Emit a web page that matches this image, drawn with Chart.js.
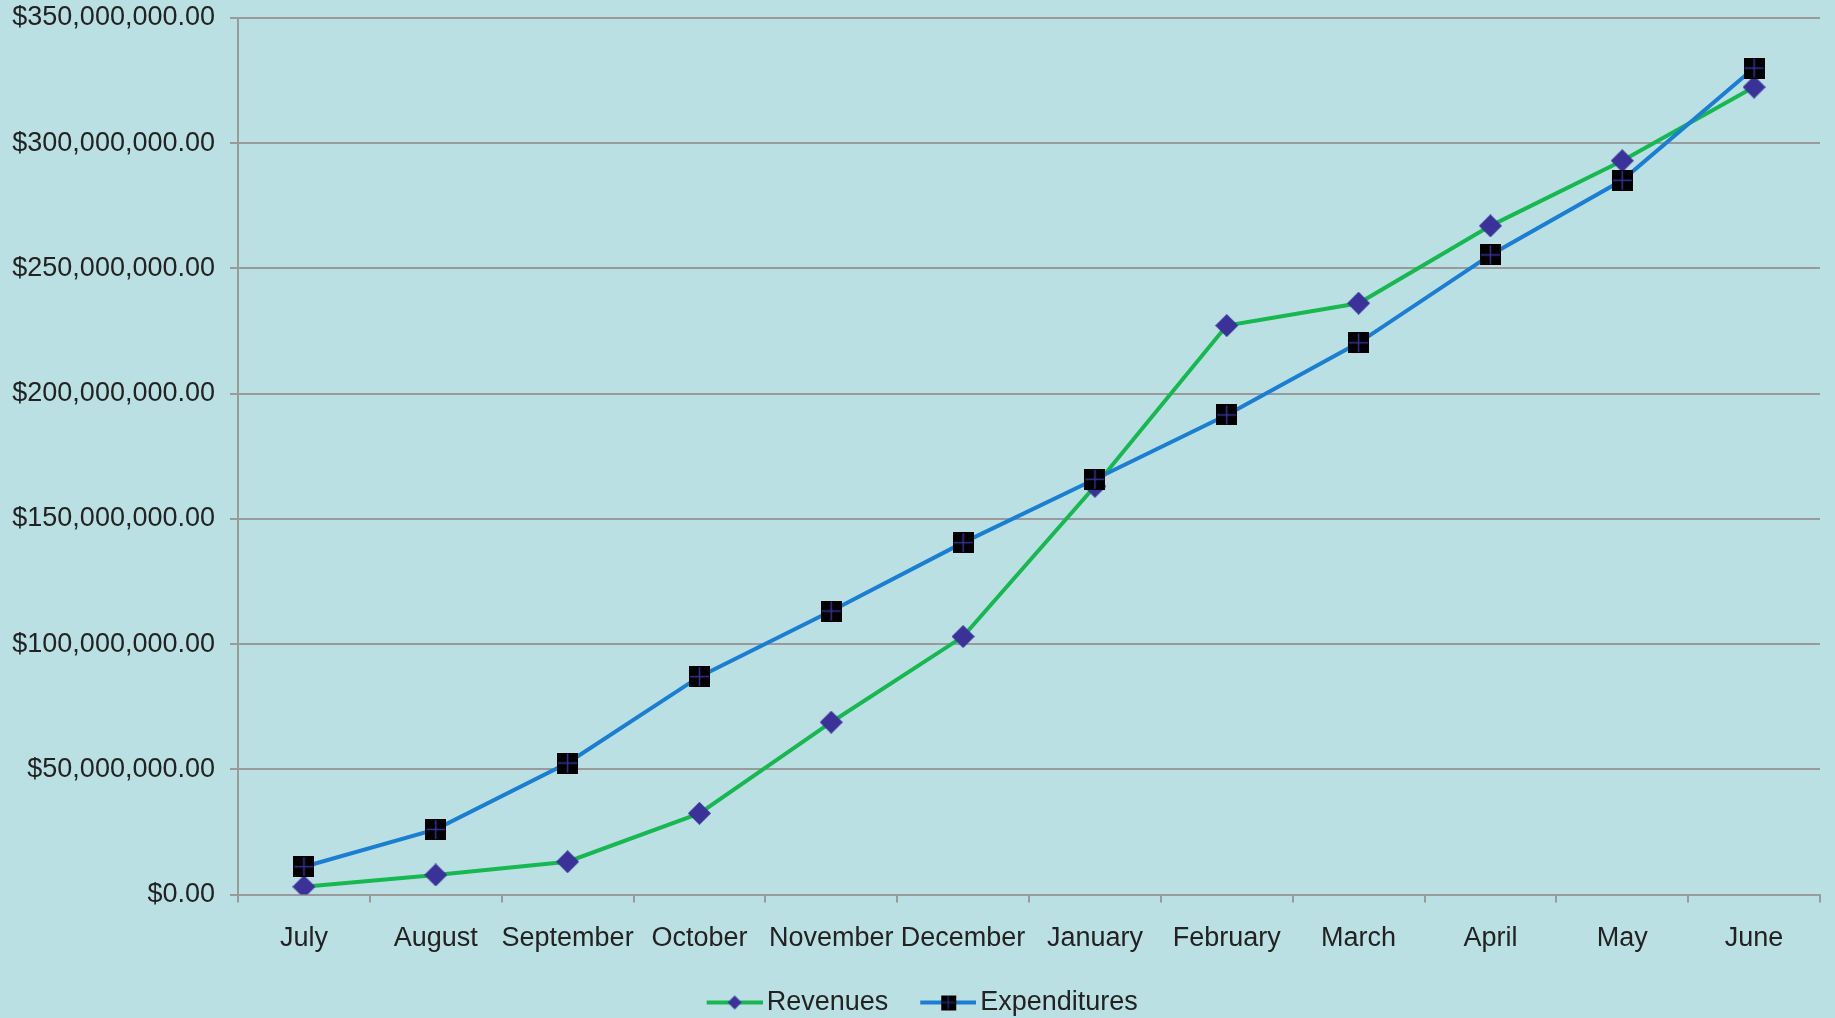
<!DOCTYPE html>
<html>
<head>
<meta charset="utf-8">
<script src="https://cdn.jsdelivr.net/npm/chart.js@4.4.1/dist/chart.umd.min.js"></script>
<style>
  html, body { margin: 0; padding: 0; background: #bbe0e3; overflow: hidden; }
  #wrap { position: relative; width: 1835px; height: 1018px; }
</style>
</head>
<body>
<div id="wrap"><canvas id="c" width="1835" height="1018"></canvas></div>
<script>
const categories = ['July', 'August', 'September', 'October', 'November', 'December',
                    'January', 'February', 'March', 'April', 'May', 'June'];
const revenues = [3100000, 7800000, 13100000, 32400000, 68800000, 103000000,
                  163000000, 227200000, 236100000, 267000000, 293000000, 322400000];
const expenditures = [11100000, 26000000, 52500000, 87000000, 113200000, 140500000,
                      165800000, 191500000, 220300000, 255400000, 285200000, 330000000];
const seriesNames = ['Revenues', 'Expenditures'];
const yMin = 0, yMax = 350000000, yStep = 50000000;

const GREEN = '#16b84f';
const BLUE = '#1a7fd2';
const MARK = '#3a3199';
const GRID = '#9a9a9a';
const TEXT = '#222222';
const FONT = 'Liberation Sans';

function diamondImg(s) {
  const c = document.createElement('canvas');
  c.width = s; c.height = s;
  const g = c.getContext('2d');
  const h = s / 2;
  g.fillStyle = MARK;
  g.beginPath();
  g.moveTo(h, 0); g.lineTo(s, h); g.lineTo(h, s); g.lineTo(0, h);
  g.closePath(); g.fill();
  return c;
}
function squareImg(s) {
  const c = document.createElement('canvas');
  c.width = s; c.height = s;
  const g = c.getContext('2d');
  g.fillStyle = '#000';
  g.fillRect(0, 0, s, s);
  g.strokeStyle = MARK;
  g.lineWidth = Math.max(1, s / 14);
  g.beginPath();
  g.moveTo(s / 2, 1); g.lineTo(s / 2, s - 1);
  g.moveTo(1, s / 2); g.lineTo(s - 1, s / 2);
  g.stroke();
  return c;
}
// legend symbol: transparent margin on the left, then line with centred marker
function legendImg(color, marker) {
  const w = 82, h = 20, x0 = 26;
  const c = document.createElement('canvas');
  c.width = w; c.height = h;
  const g = c.getContext('2d');
  g.strokeStyle = color; g.lineWidth = 4;
  g.beginPath(); g.moveTo(x0, h / 2); g.lineTo(w, h / 2); g.stroke();
  g.drawImage(marker, x0 + (w - x0 - marker.width) / 2, (h - marker.height) / 2);
  return c;
}

const revPoint = diamondImg(23);
const expPoint = squareImg(21);
const legendImgs = [legendImg(GREEN, diamondImg(14)), legendImg(BLUE, squareImg(15))];

new Chart(document.getElementById('c'), {
  type: 'line',
  data: {
    labels: categories,
    datasets: [
      {
        label: seriesNames[0], data: revenues, order: 1,
        borderColor: GREEN, backgroundColor: MARK, borderWidth: 4,
        pointStyle: revPoint, pointRadius: 11, pointHoverRadius: 11,
        tension: 0, fill: false
      },
      {
        label: seriesNames[1], data: expenditures, order: 0,
        borderColor: BLUE, backgroundColor: '#000', borderWidth: 4,
        pointStyle: expPoint, pointRadius: 11, pointHoverRadius: 11,
        tension: 0, fill: false
      }
    ]
  },
  options: {
    responsive: false,
    animation: false,
    layout: { padding: { top: 18, right: 7, bottom: -8, left: 0 } },
    plugins: {
      tooltip: { enabled: false },
      legend: {
        position: 'bottom',
        labels: {
          usePointStyle: true,
          pointStyleWidth: 63,
          padding: 15.5,
          color: TEXT,
          font: { family: FONT, size: 27 },
          generateLabels: (chart) => chart.data.datasets.map((ds, i) => ({
            text: ds.label,
            pointStyle: legendImgs[i],
            fillStyle: 'transparent',
            strokeStyle: 'transparent',
            lineWidth: 0,
            hidden: false,
            datasetIndex: i,
            fontColor: TEXT
          }))
        }
      }
    },
    scales: {
      x: {
        offset: true,
        grid: { display: true, offset: true, drawOnChartArea: false, drawTicks: true,
                tickLength: 8, color: GRID, lineWidth: 2 },
        border: { display: true, color: GRID, width: 2 },
        ticks: { color: TEXT, padding: 20, maxRotation: 0, autoSkip: false,
                 font: { family: FONT, size: 27 } },
        afterFit: (s) => { s.height = 79; }
      },
      y: {
        min: yMin, max: yMax,
        grid: { color: GRID, lineWidth: 2, tickLength: 8, drawTicks: true },
        border: { display: true, color: GRID, width: 2 },
        ticks: {
          stepSize: yStep, color: TEXT, padding: 15,
          font: { family: FONT, size: 27 },
          callback: (v) => '$' + Number(v).toLocaleString('en-US', { minimumFractionDigits: 2, maximumFractionDigits: 2 })
        },
        afterFit: (s) => { s.width = 238; s.paddingTop = 0; s.paddingBottom = 0; }
      }
    }
  }
});
</script>
</body>
</html>
